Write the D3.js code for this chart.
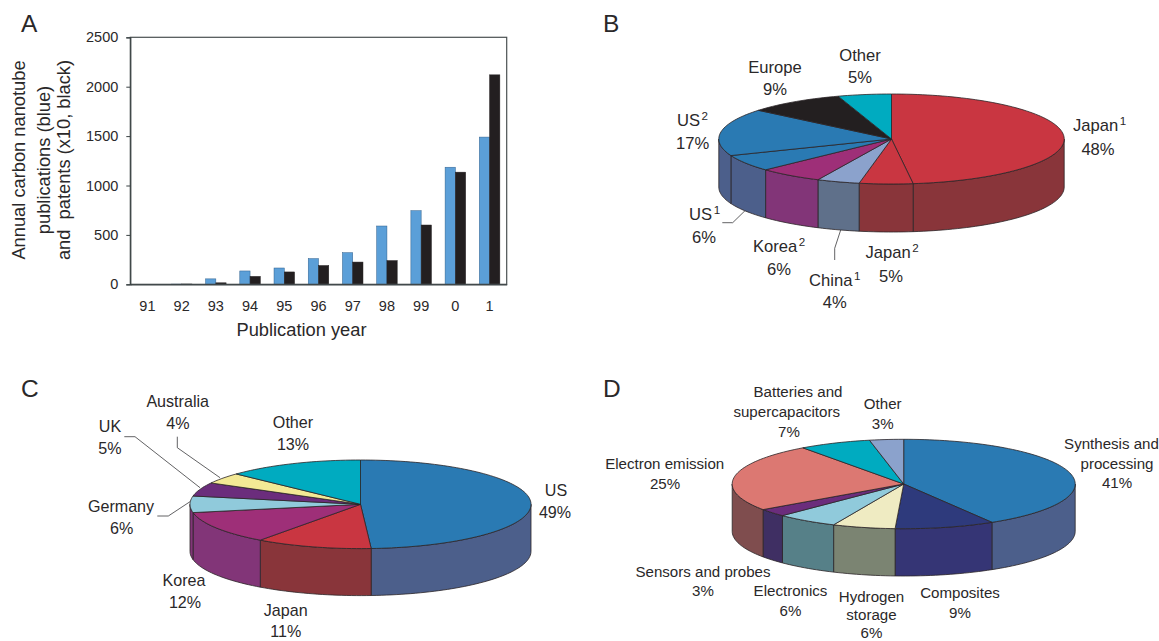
<!DOCTYPE html>
<html>
<head>
<meta charset="utf-8">
<title>Carbon nanotube publications and patents</title>
<script src="https://d3js.org/d3.v7.min.js"></script>
<style>
	html, body { margin: 0; padding: 0; background: #fff; }
	svg { display: block; }
	text { font-family: "Liberation Sans", Arial, sans-serif; fill: #2a2829; }
</style>
</head>
<body>
<svg id="chart" width="1159" height="641"></svg>
<script>
// panel A
const years = ['91', '92', '93', '94', '95', '96', '97', '98', '99', '0', '1'];
const publications = [0, 2, 55, 135, 165, 260, 320, 590, 745, 1185, 1490];
const patents = [0, 3, 15, 80, 125, 190, 225, 240, 600, 1135, 2120];
const y_ticks = [0, 500, 1000, 1500, 2000, 2500];

// panel B
const b_names = ['Japan', 'Japan', 'China', 'Korea', 'US', 'US', 'Europe', 'Other'];
const b_sups = ['1', '2', '1', '2', '1', '2', '', ''];
const b_values = [48, 5, 4, 6, 6, 17, 9, 5];

// panel C
const c_names = ['US', 'Japan', 'Korea', 'Germany', 'UK', 'Australia', 'Other'];
const c_values = [49, 11, 12, 6, 5, 4, 13];

// panel D, shares, the printed labels are these rounded
const d_names = ['Synthesis and|processing', 'Composites', 'Hydrogen|storage', 'Electronics',
	'Sensors and probes', 'Electron emission', 'Batteries and|supercapacitors', 'Other'];
const d_values = [41.4, 9.4, 5.9, 5.8, 2.8, 24.7, 6.8, 3.2];

// colours: top face, then darker side wall
const b_top = ['#c93641', '#c93641', '#8ba2cc', '#9e2f78', '#2a7ab3', '#2a7ab3', '#231f20', '#00abc0'];
const b_side = ['#89353a', '#89353a', '#5f708a', '#823578', '#4c5f8b', '#4c5f8b', '#231f20', '#00abc0'];
const c_top = ['#2a7ab3', '#c93641', '#9e2f78', '#90cadb', '#6b2d7c', '#f3e995', '#00abc0'];
const c_side = ['#4c5f8b', '#89353a', '#823578', '#823578', '#3f2f63', '#7b8472', '#00abc0'];
const d_top = ['#2a7ab3', '#2e3a7c', '#efebc2', '#90cadb', '#6b2d7c', '#dc7872', '#00abc0', '#8ba2cc'];
const d_side = ['#4c5f8b', '#353575', '#7b8472', '#568088', '#3f2f63', '#7f4d4e', '#00abc0', '#5f708a'];

const svg = d3.select('#chart');

/**
 * Panel A, grouped bars on a framed plot
 */
const draw_bars = () => {
	const left = 130.3, right = 506.7, top = 37.3, bottom = 284.3;
	const x = d3.scaleBand().domain(years).range([left, right]).paddingInner(0.4).paddingOuter(0.2);
	const sub = d3.scaleBand().domain([0, 1]).range([0, x.bandwidth()]);
	const y = d3.scaleLinear().domain([0, 2500]).range([bottom, top]);

	const g = svg.append('g');
	const series = [
		{ values: publications, fill: '#5b9fd8', stroke: '#2f5f8c' },
		{ values: patents, fill: '#231f20', stroke: '#231f20' }
	];
	series.forEach((s, i) => {
		g.append('g').selectAll('rect')
			.data(s.values)
			.enter()
			.append('rect')
			.attr('x', (d, j) => x(years[j]) + sub(i))
			.attr('y', d => y(d))
			.attr('width', sub.bandwidth())
			.attr('height', d => bottom - y(d))
			.attr('fill', s.fill)
			.attr('stroke', s.stroke)
			.attr('stroke-width', 0.5);
	});

	g.append('rect')
		.attr('x', left).attr('y', top)
		.attr('width', right - left).attr('height', bottom - top)
		.attr('fill', 'none').attr('stroke', '#4a5052').attr('stroke-width', 1.2);

	const y_axis = g.append('g')
		.attr('transform', `translate(${left},0)`)
		.call(d3.axisLeft(y).tickValues(y_ticks).tickSize(4).tickPadding(8).tickFormat(d3.format('d')));
	y_axis.select('.domain').attr('stroke', '#3a4244').attr('stroke-width', 1.2);
	y_axis.selectAll('line').attr('stroke', '#3a4244');
	y_axis.selectAll('text').style('font-size', '14.5px').style('font-family', null);

	const x_axis = g.append('g')
		.attr('transform', `translate(0,${bottom})`)
		.call(d3.axisBottom(x).tickSize(0).tickPadding(16.4));
	x_axis.select('.domain').attr('stroke', '#3a4244').attr('stroke-width', 1.2);
	x_axis.selectAll('text').style('font-size', '14.5px').style('font-family', null);

	g.append('text').attr('x', 301.5).attr('y', 336).attr('text-anchor', 'middle')
		.style('font-size', '18.3px').text('Publication year');

	[['Annual carbon nanotube', 25], ['publications (blue)', 49.5], ['and  patents (x10, black)', 70]].forEach(([t, bx]) => {
		g.append('text')
			.attr('transform', `translate(${bx},160) rotate(-90)`)
			.attr('text-anchor', 'middle')
			.style('font-size', '18.3px')
			.style('white-space', 'pre')
			.text(t);
	});
};

/**
 * Tilted pie: d3.pie gives the angles, which are then laid on an ellipse
 */
const draw_pie = (values, top_colors, side_colors, geo) => {
	const { cx, cy, rx, ry, depth } = geo;
	const g = svg.append('g');
	const slices = d3.pie().sort(null)(values);
	const on_rim = (a, dy = 0) => [cx + rx * Math.sin(a), cy - ry * Math.cos(a) + dy];
	const samples = (a0, a1) => {
		const n = Math.max(2, Math.ceil((a1 - a0) / 0.03));
		return d3.range(n + 1).map(i => a0 + (a1 - a0) * i / n);
	};
	const line = d3.line();
	const outline = { stroke: '#2b2527', width: 0.8 };

	// side walls only exist on the front half
	slices.forEach((s, i) => {
		const a0 = Math.max(s.startAngle, Math.PI / 2);
		const a1 = Math.min(s.endAngle, 3 * Math.PI / 2);
		if (a1 <= a0) return;
		const pts = samples(a0, a1);
		const wall = pts.map(a => on_rim(a)).concat(pts.slice().reverse().map(a => on_rim(a, depth)));
		g.append('path')
			.attr('d', line(wall) + 'Z')
			.attr('fill', side_colors[i])
			.attr('stroke', outline.stroke)
			.attr('stroke-width', outline.width)
			.attr('stroke-linejoin', 'round');
	});

	slices.forEach((s, i) => {
		const pts = [[cx, cy]].concat(samples(s.startAngle, s.endAngle).map(a => on_rim(a)));
		g.append('path')
			.attr('d', line(pts) + 'Z')
			.attr('fill', top_colors[i])
			.attr('stroke', outline.stroke)
			.attr('stroke-width', outline.width)
			.attr('stroke-linejoin', 'round');
	});
};

/**
 * Label blocks: each line of a block has its own [x, baseline]
 */
const draw_labels = (names, sups, values, layout, size) => {
	const g = svg.append('g').style('font-size', size + 'px');
	names.forEach((name, i) => {
		const lines = name.split('|').concat(`${Math.round(values[i])}%`);
		lines.forEach((t, k) => {
			const text = g.append('text')
				.attr('x', layout[i][k][0])
				.attr('y', layout[i][k][1])
				.attr('text-anchor', 'middle')
				.text(t);
			if (k === 0 && sups && sups[i]) {
				text.append('tspan')
					.attr('dx', 1.5).attr('dy', -6)
					.style('font-size', (size * 0.7) + 'px')
					.text(sups[i]);
			}
		});
	});
};

const draw_leaders = (leaders) => {
	svg.append('g').selectAll('path')
		.data(leaders)
		.enter()
		.append('path')
		.attr('d', d3.line())
		.attr('fill', 'none')
		.attr('stroke', '#3a3a3c')
		.attr('stroke-width', 0.8);
};

const draw_panel_letters = () => {
	[['A', 21, 32], ['B', 603, 32], ['C', 21, 397], ['D', 603, 397]].forEach(([t, x, y]) => {
		svg.append('text').attr('x', x).attr('y', y).style('font-size', '24.5px').text(t);
	});
};

draw_bars();
draw_pie(b_values, b_top, b_side, { cx: 891.5, cy: 139, rx: 172.7, ry: 45, depth: 48 });
draw_pie(c_values, c_top, c_side, { cx: 360.5, cy: 504.3, rx: 170.5, ry: 44.3, depth: 47 });
draw_pie(d_values, d_top, d_side, { cx: 903.7, cy: 484, rx: 171.5, ry: 44.7, depth: 47.3 });

draw_labels(b_names, b_sups, b_values, [
	[[1099.5, 131], [1098, 155]],
	[[892, 258], [891, 282]],
	[[834.7, 286], [834.7, 308]],
	[[779, 252], [779, 275]],
	[[704.6, 220], [704, 243]],
	[[692.5, 126], [692.7, 149]],
	[[775, 73], [775, 95]],
	[[860, 61], [860, 83]]
], 16.6);

draw_labels(c_names, null, c_values, [
	[[556, 495.7], [555, 517.7]],
	[[285.7, 615.7], [285.7, 637]],
	[[184, 586], [185, 608]],
	[[121, 512], [121.7, 534]],
	[[110, 431.7], [110, 454]],
	[[177.7, 406.7], [178, 429]],
	[[293, 428], [293, 450]]
], 16.1);

draw_labels(d_names, null, d_values, [
	[[1111.5, 449], [1117, 469], [1117, 488]],
	[[960, 597.7], [960, 617.7]],
	[[871.5, 601.5], [871.5, 620], [871.5, 637.5]],
	[[790.5, 596], [790.5, 616]],
	[[703, 577], [703, 596]],
	[[664.7, 468.7], [665, 489.3]],
	[[798, 397], [786.7, 417], [789, 437]],
	[[882.7, 409], [882.7, 429]]
], 15.1);

draw_leaders([
	[[722.3, 222.7], [732.7, 222.7], [745, 210.7]],
	[[834.7, 260], [834.7, 248.3], [840.7, 230]],
	[[124.3, 436.7], [135, 436.7], [200, 487.7]],
	[[177.3, 436.7], [177.3, 447.7], [220, 477.7]],
	[[157.3, 516], [168.3, 516], [190, 501.7]]
]);

draw_panel_letters();
</script>
</body>
</html>
